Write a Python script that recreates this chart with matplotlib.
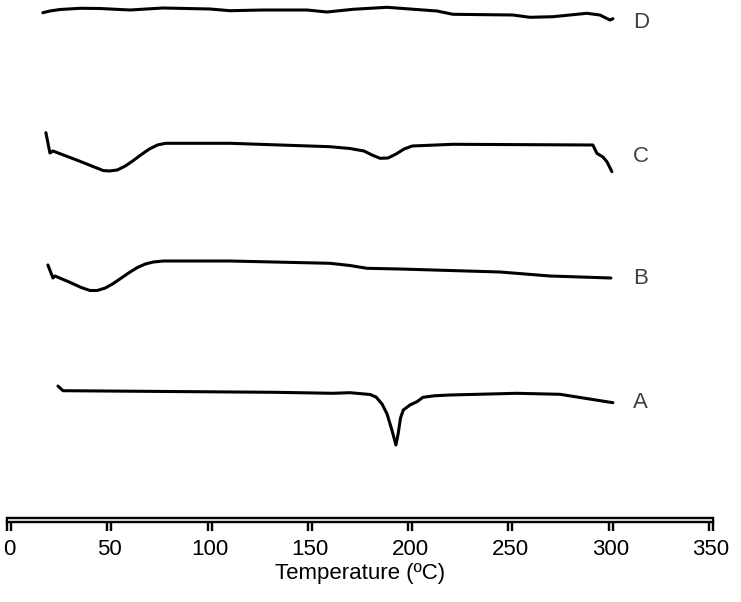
import matplotlib
matplotlib.use("Agg")
import matplotlib.pyplot as plt
import matplotlib.patheffects as pe
import numpy as np

# DSC traces (temperature in C, signal in arbitrary offset units)
tA = [24.4, 26.9, 132.6, 161.5, 170.0, 180.0, 183.0, 186.0, 188.5, 190.9, 192.9, 194.0, 195.2, 196.6, 199.9, 203.4, 206.4, 212.0, 219.8, 253.2, 274.7, 301.1]
yA = [13.4, 12.93, 12.77, 12.67, 12.73, 12.55, 12.3, 11.6, 10.6, 9.0, 7.5, 8.6, 10.2, 11.0, 11.5, 11.83, 12.27, 12.42, 12.5, 12.67, 12.57, 11.73]

tB = [19.4, 21.9, 22.9, 30.0, 36.0, 40.4, 44.0, 48.0, 52.0, 56.0, 60.0, 64.0, 68.0, 72.0, 77.0, 110.2, 160.0, 170.0, 178.5, 194.9, 244.8, 269.7, 300.1]
yB = [25.5, 24.2, 24.4, 23.8, 23.25, 22.95, 22.95, 23.2, 23.65, 24.2, 24.75, 25.25, 25.6, 25.8, 25.9, 25.9, 25.67, 25.45, 25.17, 25.1, 24.8, 24.4, 24.2]

tC = [18.4, 20.4, 21.9, 35.0, 46.9, 50.0, 54.0, 58.0, 62.0, 66.0, 70.0, 74.0, 78.0, 110.2, 160.0, 170.0, 177.0, 181.0, 185.0, 189.0, 193.0, 197.0, 201.0, 221.3, 291.1, 293.1, 296.1, 298.1, 300.6]
yC = [38.73, 36.7, 36.9, 35.9, 34.95, 34.9, 35.0, 35.4, 35.95, 36.55, 37.1, 37.5, 37.67, 37.67, 37.33, 37.15, 36.9, 36.5, 36.17, 36.2, 36.6, 37.1, 37.4, 37.57, 37.5, 36.67, 36.3, 35.83, 34.83]

tD = [16.9, 20.4, 25.4, 35.4, 45.4, 60.3, 76.8, 100.2, 110.2, 126.6, 148.6, 158.5, 171.5, 188.4, 213.4, 221.3, 251.2, 259.7, 271.2, 288.1, 294.6, 299.6, 301.1]
yD = [50.73, 50.9, 51.05, 51.17, 51.15, 51.0, 51.2, 51.1, 50.93, 51.0, 51.0, 50.8, 51.07, 51.27, 50.9, 50.57, 50.5, 50.27, 50.33, 50.67, 50.5, 50.0, 50.13]

labels = ["A", "B", "C", "D"]
label_y = [11.7, 24.2, 36.3, 49.8]

font = ["Liberation Sans", "DejaVu Sans"]

fig = plt.figure(figsize=(7.41, 6.02), dpi=100)
ax = fig.add_axes([9/741, 82/602, 702/741, 520/602])

for t, y in [(tA, yA), (tB, yB), (tC, yC), (tD, yD)]:
    ax.plot(t, y, color="black", lw=2.2, solid_joinstyle="round", solid_capstyle="round")

for lab, ly in zip(labels, label_y):
    ax.text(311, ly, lab, fontsize=16, color="#404040", va="center", ha="left", family=font)

ax.set_xlim(0, 350)
ax.set_ylim(0, 52)
ax.set_xticks(np.arange(0, 351, 50))
ax.set_yticks([])
for s in ["left", "right", "top"]:
    ax.spines[s].set_visible(False)

hollow = [pe.Stroke(linewidth=4.6, foreground="black"), pe.Normal()]
ax.spines["bottom"].set_color("#cfcfcf")
ax.spines["bottom"].set_linewidth(1.5)
ax.spines["bottom"].set_path_effects(hollow)
ax.spines["bottom"].set_capstyle("projecting")
ax.tick_params(axis="x", direction="out", length=8, width=1.5, color="#cfcfcf", pad=6)
for tk in ax.xaxis.get_major_ticks():
    tk.tick1line.set_path_effects([pe.Stroke(linewidth=4.6, foreground="black"), pe.Normal()])
for lbl in ax.get_xticklabels():
    lbl.set_fontsize(16)
    lbl.set_family(font)
ax.set_xlabel("Temperature (ºC)", fontsize=16, family=font, labelpad=2)

fig.savefig("out.png", dpi=100)
